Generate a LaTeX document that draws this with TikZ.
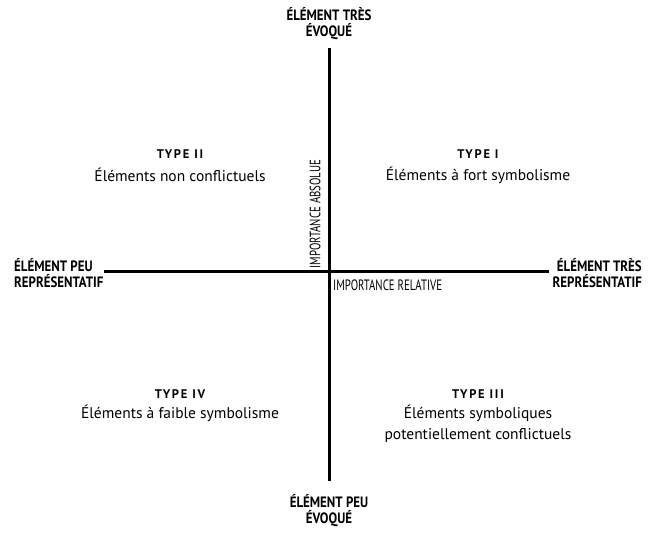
\documentclass[tikz,border=0pt]{standalone}
\usepackage{fontspec}
\setmainfont{PT Sans}
\newfontfamily\condbold[FakeStretch=0.86]{PT Sans Bold}
\newfontfamily\condreg[FakeStretch=0.72]{PT Sans}
\newfontfamily\typefont[LetterSpace=14]{PT Sans Bold}
\begin{document}
\begin{tikzpicture}[x=1pt,y=-1pt,
  axis/.style={line width=3pt},
  endlabel/.style={font=\condbold\fontsize{15}{16}\selectfont, inner sep=0pt, align=center},
  axislabel/.style={font=\condreg\fontsize{15}{17}\selectfont, inner sep=0pt},
  typelabel/.style={font=\typefont\fontsize{12.5}{14}\selectfont, inner sep=0pt},
  desc/.style={font=\fontsize{15.5}{21}\selectfont, inner sep=0pt, align=center}]
\useasboundingbox (0,0) rectangle (651,539);
\node[endlabel] (top) at (329,24) {ÉLÉMENT TRÈS\\ÉVOQUÉ};
\node[endlabel] (bot) at (329,511) {ÉLÉMENT PEU\\ÉVOQUÉ};
\node[endlabel, align=left, anchor=west] (left) at (14,273) {ÉLÉMENT PEU\\REPRÉSENTATIF};
\node[endlabel, align=right, anchor=east] (right) at (642,273) {ÉLÉMENT TRÈS\\REPRÉSENTATIF};
\coordinate (vt) at (329,48);
\coordinate (vb) at (329,481);
\coordinate (hl) at (104,271);
\coordinate (hr) at (549,271);
\draw[axis] (vt) -- (vb);
\draw[axis] (hl) -- (hr);
\node[axislabel, rotate=90] (ia) at (315,214) {IMPORTANCE ABSOLUE};
\node[axislabel, anchor=west] (ir) at (333,285) {IMPORTANCE RELATIVE};
\node[typelabel] (t2) at (180,154) {TYPE II};
\node[desc] (d2) at (180,175) {Éléments non conflictuels};
\node[typelabel] (t1) at (478,154) {TYPE I};
\node[desc] (d1) at (478,175) {Éléments à fort symbolisme};
\node[typelabel] (t4) at (180,394) {TYPE IV};
\node[desc] (d4) at (180,413) {Éléments à faible symbolisme};
\node[typelabel] (t3) at (478,394) {TYPE III};
\node[desc] (d3) at (478,424) {Éléments symboliques\\potentiellement conflictuels};
\end{tikzpicture}
\end{document}
